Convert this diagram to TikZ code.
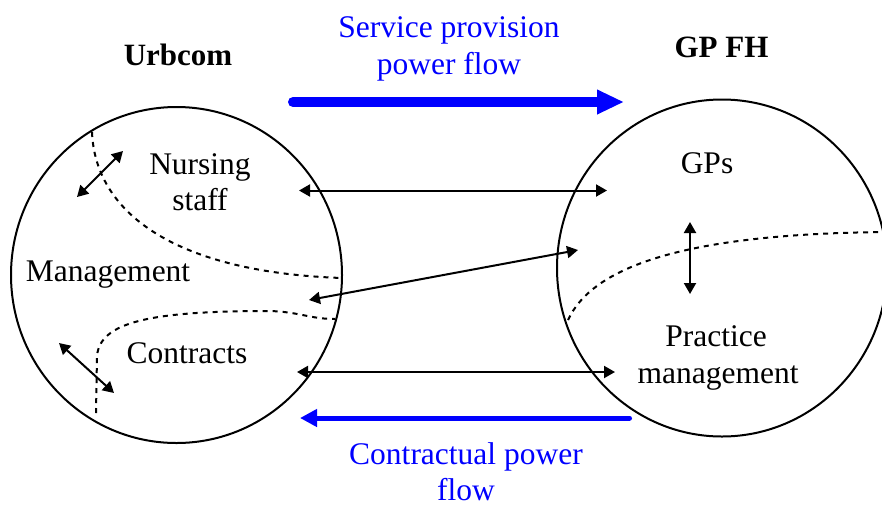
\documentclass[tikz,border=0pt]{standalone}
\usepackage{fontspec}
\setmainfont{Liberation Serif}
\usetikzlibrary{arrows.meta,shapes.geometric}
\definecolor{flowblue}{RGB}{0,0,255}
\tikzset{
  org/.style={draw, ellipse, line width=2pt, inner sep=0pt},
  lbl/.style={anchor=base, inner sep=0pt, font=\fontsize{31.5}{37}\selectfont},
  title/.style={anchor=base, inner sep=0pt, font=\fontsize{31}{37}\selectfont\bfseries},
  flowlbl/.style={lbl, text=flowblue},
  link/.style={line width=2pt, {Triangle[length=11pt,width=12pt]}-{Triangle[length=11pt,width=12pt]}},
  border/.style={line width=2pt, dash pattern=on 5pt off 5pt},
  bigflow/.style={flowblue, line width=10pt, line cap=round, -{Triangle[length=27pt,width=23pt]}},
  smallflow/.style={flowblue, line width=5pt, line cap=round, -{Triangle[length=17pt,width=17pt]}}
}
\begin{document}
\begin{tikzpicture}[x=1pt, y=-1pt]
\useasboundingbox (0,0) rectangle (882,504);
\clip (0,0) rectangle (882,504);

% the two organisations
\node[org, minimum width=331pt, minimum height=336pt] (urb) at (176.5,275) {};
\node[org, minimum width=330pt, minimum height=337pt] (gp) at (722,268) {};

% titles
\node[title] (urbcom) at (178,65) {Urbcom};
\node[title] (gpfh) at (721.5,57) {GP FH};

% flow labels
\node[flowlbl] (svcA) at (449,37) {Service provision};
\node[flowlbl] (svcB) at (449,74) {power flow};
\node[flowlbl] (conA) at (466,464) {Contractual power};
\node[flowlbl] (conB) at (466,500) {flow};

% groups inside Urbcom
\node[lbl] (nursA) at (200,174) {Nursing};
\node[lbl] (nursB) at (200,210) {staff};
\node[lbl] (mgmt) at (108,281) {Management};
\node[lbl] (contracts) at (187,363) {Contracts};

% groups inside GP FH
\node[lbl] (gps) at (707,173) {GPs};
\node[lbl] (pracA) at (716,346) {Practice};
\node[lbl] (pracB) at (718,383) {management};

% power flow arrows
\coordinate (bigS) at (293,102);
\coordinate (bigE) at (624,102);
\draw[bigflow] (bigS) -- (bigE);
\coordinate (smS) at (629.5,418);
\coordinate (smE) at (300,418);
\draw[smallflow] (smS) -- (smE);

% internal boundaries
\draw[border] (92,132) .. controls (95,210) and (170,272) .. (342,278);
\draw[border] (96,413) -- (97,356) .. controls (100,322) and (150,311) .. (270,311)
  .. controls (300,312) and (310,319) .. (335,319);
\draw[border] (568,320) .. controls (592,268) and (680,234) .. (885,232);

% links between groups
\coordinate (l1a) at (299,190.5);
\coordinate (l1b) at (607,190.5);
\draw[link] (l1a) -- (l1b);
\coordinate (l2a) at (309,300);
\coordinate (l2b) at (578,250);
\draw[link] (l2a) -- (l2b);
\coordinate (l3a) at (297,372);
\coordinate (l3b) at (615,372);
\draw[link] (l3a) -- (l3b);
\coordinate (n1) at (77,197);
\coordinate (n2) at (123,151);
\draw[link] (n1) -- (n2);
\coordinate (c1) at (59,343);
\coordinate (c2) at (114,393);
\draw[link] (c1) -- (c2);
\coordinate (g1) at (690,222);
\coordinate (g2) at (690,294);
\draw[link] (g1) -- (g2);
\end{tikzpicture}
\end{document}
